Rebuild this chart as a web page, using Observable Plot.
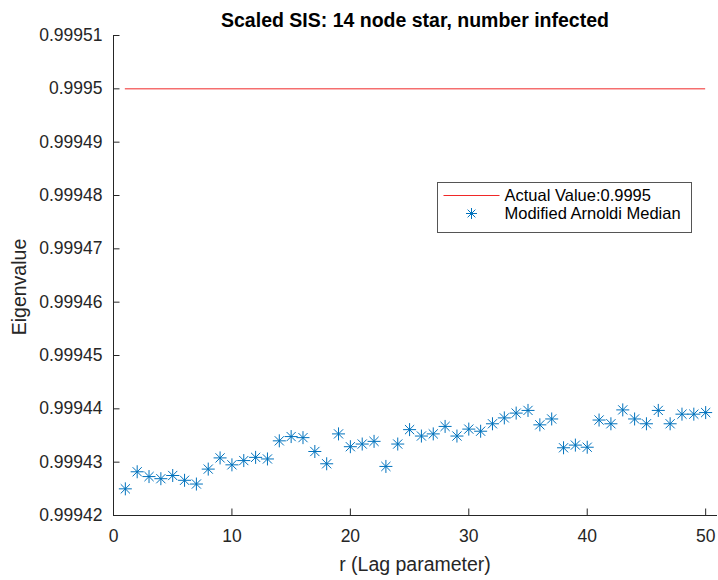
<!DOCTYPE html>
<html>
<head>
<meta charset="utf-8">
<script src="https://cdn.jsdelivr.net/npm/d3@7"></script>
<script src="https://cdn.jsdelivr.net/npm/@observablehq/plot@0.6"></script>
<style>
  html, body { margin: 0; padding: 0; background: #fff; overflow: hidden; }
  #chart svg { display: block; }
</style>
</head>
<body>
<div id="chart"></div>
<script>
// Lag parameter r and the median eigenvalue estimate at each lag
const lags = [1, 2, 3, 4, 5, 6, 7, 8, 9, 10,
  11, 12, 13, 14, 15, 16, 17, 18, 19, 20,
  21, 22, 23, 24, 25, 26, 27, 28, 29, 30,
  31, 32, 33, 34, 35, 36, 37, 38, 39, 40,
  41, 42, 43, 44, 45, 46, 47, 48, 49, 50];
const medians = [
  0.9994250, 0.9994282, 0.9994273, 0.9994269, 0.9994275, 0.9994266, 0.9994259, 0.9994287, 0.9994308, 0.9994295,
  0.9994303, 0.9994309, 0.9994306, 0.9994340, 0.9994348, 0.9994346, 0.9994320, 0.9994297, 0.9994353, 0.9994329,
  0.9994334, 0.9994339, 0.9994292, 0.9994334, 0.9994361, 0.9994349, 0.9994353, 0.9994367, 0.9994349, 0.9994362,
  0.9994358, 0.9994372, 0.9994383, 0.9994392, 0.9994397, 0.9994370, 0.9994381, 0.9994327, 0.9994332, 0.9994328,
  0.9994379, 0.9994372, 0.9994398, 0.9994381, 0.9994372, 0.9994397, 0.9994372, 0.9994390, 0.9994390, 0.9994393
];
// True eigenvalue
const actualValue = 0.9995;

const xTicks = [0, 10, 20, 30, 40, 50];
const yTicks = [0.99942, 0.99943, 0.99944, 0.99945, 0.99946, 0.99947, 0.99948, 0.99949, 0.9995, 0.99951];

const titleText = "Scaled SIS: 14 node star, number infected";
const xLabelText = "r (Lag parameter)";
const yLabelText = "Eigenvalue";
const legendLabels = ["Actual Value:" + actualValue, "Modified Arnoldi Median"];

const points = lags.map((r, i) => ({r, value: medians[i]}));

const FONT = "'Liberation Sans', Arial, Helvetica, sans-serif";
const INK = "#262626";
const BLUE = "#0072BD";
const RED = "#f02828";

// MATLAB-style "*" marker: a plus overlaid with a cross
const asterisk = {
  draw(context, size) {
    const r = Math.sqrt(size / Math.PI);
    const d = r * Math.SQRT1_2;
    context.moveTo(0, -r); context.lineTo(0, r);
    context.moveTo(-r, 0); context.lineTo(r, 0);
    context.moveTo(-d, -d); context.lineTo(d, d);
    context.moveTo(-d, d); context.lineTo(d, -d);
  }
};

const chart = Plot.plot({
  width: 718,
  height: 580,
  marginLeft: 113,
  marginRight: 1,
  marginTop: 35,
  marginBottom: 65,
  style: {fontFamily: FONT, color: INK, background: "#fff"},
  x: {domain: [0, 51]},
  y: {domain: [0.99942, 0.99951]},
  marks: [
    Plot.ruleY([actualValue], {x1: lags[0], x2: lags[lags.length - 1], stroke: RED, strokeWidth: 1}),
    Plot.dot(points, {x: "r", y: "value", symbol: asterisk, r: 6.5, stroke: BLUE, strokeWidth: 1}),
    Plot.ruleX([0], {stroke: INK, strokeWidth: 1}),
    Plot.ruleY([0.99942], {stroke: INK, strokeWidth: 1}),
    Plot.axisX({ticks: xTicks, tickSize: -6.5, tickPadding: 21, fontSize: 17.5, label: null, stroke: INK, fill: INK}),
    Plot.axisY({ticks: yTicks, tickFormat: d => String(d), tickSize: -6.5, tickPadding: 17.5, fontSize: 17.5, label: null, stroke: INK, fill: INK})
  ]
});

document.getElementById("chart").appendChild(chart);

const svg = d3.select(chart);
const xs = chart.scale("x"), ys = chart.scale("y");
const frameCx = (xs.range[0] + xs.range[1]) / 2;
const frameCy = (ys.range[0] + ys.range[1]) / 2;

// Title
svg.append("text")
  .attr("x", frameCx).attr("y", 26.5)
  .attr("text-anchor", "middle")
  .attr("font-family", FONT).attr("font-weight", "bold").attr("font-size", 19.5)
  .attr("fill", "#000")
  .text(titleText);

// Axis labels
svg.append("text")
  .attr("x", frameCx).attr("y", 571)
  .attr("text-anchor", "middle")
  .attr("font-family", FONT).attr("font-size", 19.5)
  .attr("fill", INK)
  .text(xLabelText);

svg.append("text")
  .attr("transform", `translate(26,${frameCy + 12}) rotate(-90)`)
  .attr("text-anchor", "middle")
  .attr("font-family", FONT).attr("font-size", 19.5)
  .attr("fill", INK)
  .text(yLabelText);

// Legend
const lg = svg.append("g").attr("transform", "translate(437.5,182.5)");
lg.append("rect").attr("width", 254).attr("height", 50)
  .attr("fill", "#fff").attr("stroke", "#555").attr("stroke-width", 1);
lg.append("path").attr("d", "M6,13H62")
  .style("stroke", RED).style("stroke-width", "1.2px").style("fill", "none");
const sym = d3.path();
asterisk.draw(sym, Math.PI * 5.5 * 5.5);
lg.append("path").attr("transform", "translate(34,31)").attr("d", sym.toString())
  .style("stroke", BLUE).style("stroke-width", "1px").style("fill", "none");
lg.selectAll("text.lbl").data(legendLabels).join("text")
  .attr("class", "lbl")
  .attr("x", 67).attr("y", (d, i) => 13 + i * 18).attr("dy", "0.35em")
  .attr("text-anchor", "start")
  .attr("font-family", FONT).attr("font-size", 16.5).attr("fill", "#000")
  .text(d => d);
</script>
</body>
</html>
